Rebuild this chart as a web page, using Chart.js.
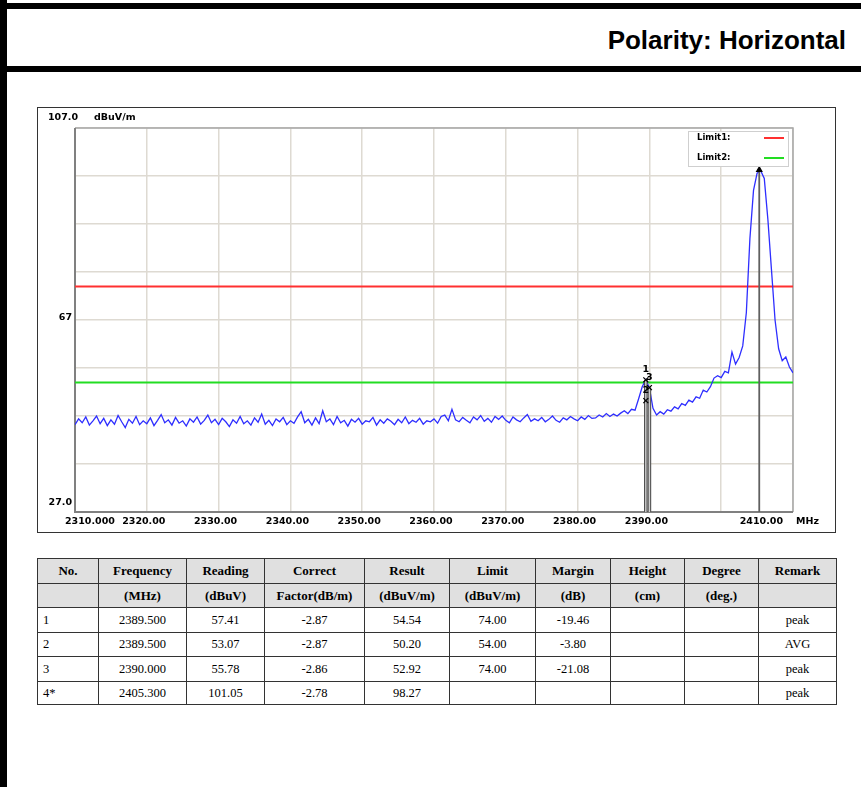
<!DOCTYPE html>
<html><head><meta charset="utf-8">
<script src="https://cdn.jsdelivr.net/npm/chart.js@4/dist/chart.umd.min.js"></script>
<style>
body{margin:0;width:861px;height:787px;background:#fff;position:relative;overflow:hidden;font-family:"Liberation Sans",Arial,sans-serif}
.bar{position:absolute;background:#000}
#title{position:absolute;right:15px;top:25px;line-height:28px;font:bold 26px "Liberation Sans",Arial,sans-serif;color:#000;white-space:nowrap}
#box{position:absolute;left:37px;top:107px;width:799px;height:426px;border:1px solid #333;box-sizing:border-box}
#cv{position:absolute;left:37px;top:107px}
#tbl{position:absolute;left:37px;top:558px;width:799px;border-collapse:collapse;table-layout:fixed;font-family:"Liberation Serif","Times New Roman",serif;font-size:12.5px;color:#000;border:1.5px solid #222}
#tbl td{border:1px solid #333;padding:0;text-align:center;white-space:nowrap;overflow:hidden}
#tbl tr.h td{background:#e0e0e0;font-weight:bold;font-size:13px}
#tbl td.no{text-align:left;padding-left:5px}
</style></head>
<body>
<div class="bar" style="left:0;top:3px;width:861px;height:6px"></div>
<div class="bar" style="left:0;top:66px;width:861px;height:6px"></div>
<div class="bar" style="left:0;top:0;width:7px;height:787px"></div>
<div id="title">Polarity: Horizontal</div>
<div id="box"></div>
<canvas id="cv" width="799" height="426"></canvas>
<table id="tbl"></table>
<script>
// ---- chart data ----
const startFreq = 2310;
const stepFreq = 0.5;
const levels = [
 45.2,46.4,45.6,46.8,45.1,46.0,47.0,45.4,46.5,45.0,
 46.2,45.3,47.1,45.8,44.6,46.3,45.5,46.9,45.2,46.0,
 45.4,46.6,45.0,46.1,47.3,45.6,46.2,45.1,46.7,45.5,
 46.0,44.9,46.4,45.7,46.8,45.3,46.1,47.2,45.6,46.3,
 45.2,46.5,45.8,44.8,46.2,45.5,46.9,45.4,46.0,45.1,
 46.6,45.7,47.4,45.3,46.1,45.0,46.4,45.8,46.7,45.2,
 46.0,45.5,46.8,47.9,45.6,46.3,45.1,46.6,45.4,48.1,
 45.8,46.4,45.2,46.9,45.6,46.1,44.9,46.3,45.7,46.5,
 45.3,46.0,45.8,46.7,45.1,46.2,45.5,46.4,45.9,45.2,
 46.3,45.6,46.8,45.4,46.1,45.7,46.5,45.3,46.0,45.8,
 46.4,45.5,46.9,47.2,46.0,48.4,46.2,45.8,46.7,46.1,
 45.6,46.8,46.2,47.1,45.9,46.5,45.7,46.9,46.3,47.0,
 46.1,45.6,46.8,46.2,45.8,46.6,47.3,45.9,46.4,46.0,
 46.7,45.8,46.3,47.0,46.1,45.7,46.6,46.2,46.9,46.4,
 46.0,46.8,46.3,47.1,46.5,
 46.6,47.2,46.8,47.5,46.9,47.4,47.0,47.6,48.1,47.5,48.4,48.2,50.6,53.1,
 54.54,52.92,48.6,
 47.2,47.9,47.4,48.3,48.0,48.9,48.5,49.6,49.2,50.3,49.9,51.0,50.7,52.4,52.0,53.1,54.9,55.4,55.0,56.3,56.0,60.3,57.8,59.2,61.6,
 68.5,84.0,94.0,97.6,98.1,96.5,88.0,77.5,67.0,61.0,58.5,59.3,57.2,56.0
];
const xMin = 2310, xMax = 2410;
const yMin = 27, yMax = 107;
const xTicks = [2310,2320,2330,2340,2350,2360,2370,2380,2390,2400,2410];
const xTickLabels = ['2310.000','2320.00','2330.00','2340.00','2350.00','2360.00','2370.00','2380.00','2390.00','','2410.00'];
const xUnit = 'MHz';
const yTicks = [27,37,47,57,67,77,87,97,107];
const yLabelValues = [107,67,27];
const yLabelTexts = ['107.0','67','27.0'];
const yUnit = 'dBuV/m';
const limitNames = ['Limit1:','Limit2:'];
const limitValues = [74,54];
const markerNames = ['1','2','3','4'];
const markerFreqs = [2389.5,2389.5,2390.0,2405.3];
const markerLevels = [54.54,50.20,52.92,98.27];

// ---- table data ----
const head1 = ['No.','Frequency','Reading','Correct','Result','Limit','Margin','Height','Degree','Remark'];
const head2 = ['','(MHz)','(dBuV)','Factor(dB/m)','(dBuV/m)','(dBuV/m)','(dB)','(cm)','(deg.)',''];
const tNo = ['1','2','3','4*'];
const tFreq = ['2389.500','2389.500','2390.000','2405.300'];
const tReading = ['57.41','53.07','55.78','101.05'];
const tFactor = ['-2.87','-2.87','-2.86','-2.78'];
const tResult = ['54.54','50.20','52.92','98.27'];
const tLimit = ['74.00','54.00','74.00',''];
const tMargin = ['-19.46','-3.80','-21.08',''];
const tHeight = ['','','',''];
const tDegree = ['','','',''];
const tRemark = ['peak','AVG','peak','peak'];

// ---- build table ----
(function(){
  const colW = [61,88,78,100,85,86,75,74,74,78];
  const tbl = document.getElementById('tbl');
  let html = '<colgroup>' + colW.map(w=>'<col style="width:'+w+'px">').join('') + '</colgroup>';
  html += '<tr class="h" style="height:25px">' + head1.map(t=>'<td>'+t+'</td>').join('') + '</tr>';
  html += '<tr class="h" style="height:24px">' + head2.map(t=>'<td>'+t+'</td>').join('') + '</tr>';
  const rh = [25,24,25,23];
  for(let i=0;i<tNo.length;i++){
    const cells = [tFreq[i],tReading[i],tFactor[i],tResult[i],tLimit[i],tMargin[i],tHeight[i],tDegree[i],tRemark[i]];
    html += '<tr style="height:'+rh[i]+'px"><td class="no">'+tNo[i]+'</td>' + cells.map(t=>'<td>'+t+'</td>').join('') + '</tr>';
  }
  tbl.innerHTML = html;
})();

// ---- chart ----
const trace = levels.map((v,i)=>({x:startFreq + i*stepFreq, y:v}));
const AXFONT = 'bold 9.5px "DejaVu Sans", sans-serif';

const decor = {
  id:'decor',
  beforeDatasetsDraw(chart){
    const {ctx, chartArea:a} = chart;
    ctx.save();
    ctx.strokeStyle = '#a8a8a8'; ctx.lineWidth = 1.5;
    ctx.beginPath(); ctx.moveTo(a.left, a.top); ctx.lineTo(a.right, a.top); ctx.lineTo(a.right, a.bottom); ctx.stroke();
    ctx.strokeStyle = '#808080'; ctx.lineWidth = 2;
    ctx.beginPath(); ctx.moveTo(a.left, a.top); ctx.lineTo(a.left, a.bottom); ctx.lineTo(a.right, a.bottom); ctx.stroke();
    ctx.restore();
  },
  afterDraw(chart){
    const {ctx, chartArea:a, scales:{x,y}} = chart;
    ctx.save();
    ctx.font = AXFONT; ctx.fillStyle = '#000'; ctx.textBaseline = 'middle';
    xTicks.forEach((v,i)=>{
      const t = xTickLabels[i]; if(!t) return;
      const px = x.getPixelForValue(v);
      if(i===0){ ctx.textAlign='left'; ctx.fillText(t, px-10, a.bottom+10); }
      else if(i===xTicks.length-1){ ctx.textAlign='right'; ctx.fillText(t, px-10, a.bottom+10); }
      else { ctx.textAlign='center'; ctx.fillText(t, px-3, a.bottom+10); }
    });
    ctx.textAlign='left'; ctx.fillText(xUnit, a.right+3, a.bottom+10);
    yLabelValues.forEach((v,i)=>{
      const py = y.getPixelForValue(v);
      ctx.textAlign='right';
      if(i===0){ ctx.fillText(yLabelTexts[i], a.left+3, py-10); ctx.textAlign='left'; ctx.fillText(yUnit, a.left+19, py-10); }
      else if(v===yMin){ ctx.fillText(yLabelTexts[i], a.left-3, py-9); }
      else { ctx.fillText(yLabelTexts[i], a.left-3, py-2); }
    });
    // marker labels (1..3)
    ctx.textAlign='center';
    for(let i=0;i<3;i++){
      ctx.fillText(markerNames[i], x.getPixelForValue(markerFreqs[i]), y.getPixelForValue(markerLevels[i])-10);
    }
    // legend
    const lx = a.right-105, ly = a.top+3, lw = 100, lh = 35;
    ctx.fillStyle = '#fff'; ctx.fillRect(lx, ly, lw, lh);
    ctx.strokeStyle = '#cfcfcf'; ctx.lineWidth = 1; ctx.strokeRect(lx+0.5, ly+0.5, lw, lh);
    ctx.font = 'bold 8.5px "DejaVu Sans", sans-serif';
    const lcols = [chart.data.datasets[2].borderColor, chart.data.datasets[3].borderColor];
    limitNames.forEach((n,i)=>{
      const yy = ly + 7 + i*20;
      ctx.fillStyle = '#000'; ctx.textAlign='left'; ctx.fillText(n, lx+9, yy);
      ctx.strokeStyle = lcols[i]; ctx.lineWidth = 2;
      ctx.beginPath(); ctx.moveTo(lx+76, yy); ctx.lineTo(lx+96, yy); ctx.stroke();
    });
    ctx.restore();
  }
};

const markerLineSets = [];
for(let i=0;i<markerFreqs.length;i++){
  if(i===1) continue; // marker 2 shares marker 1's line
  const d = [{x:markerFreqs[i], y:markerLevels[i]}, {x:markerFreqs[i], y:yMin}];
  if(i<3){
    markerLineSets.push({data:d, showLine:true, borderColor:'#cfcfcf', borderWidth:1.4, pointRadius:0, order:1});
    markerLineSets.push({data:d, showLine:true, borderColor:'#505050', borderWidth:3.6, pointRadius:0, order:2});
  } else {
    markerLineSets.push({data:d, showLine:true, borderColor:'#606060', borderWidth:1.8, pointRadius:0, order:2});
  }
}

new Chart(document.getElementById('cv'), {
  type:'scatter',
  data:{datasets:[
    {label:'markers', data:markerFreqs.map((f,i)=>({x:f,y:markerLevels[i]})), showLine:false,
     pointStyle:['crossRot','crossRot','crossRot','triangle'], pointRadius:[3.5,3.5,3.5,3],
     borderColor:'#000', backgroundColor:'#000', borderWidth:1.2, order:0},
    {label:'trace', data:trace, showLine:true, borderColor:'#2e2eff', borderWidth:1.3, pointRadius:0, tension:0, order:3},
    {label:limitNames[0], data:[{x:xMin,y:limitValues[0]},{x:xMax,y:limitValues[0]}], showLine:true, borderColor:'#ff3030', borderWidth:2, pointRadius:0, order:4},
    {label:limitNames[1], data:[{x:xMin,y:limitValues[1]},{x:xMax,y:limitValues[1]}], showLine:true, borderColor:'#22dd22', borderWidth:2, pointRadius:0, order:4},
    ...markerLineSets
  ]},
  options:{
    responsive:false, animation:false, devicePixelRatio:1,
    layout:{padding:{top:21, right:43, left:0, bottom:0}},
    plugins:{legend:{display:false}, tooltip:{enabled:false}},
    scales:{
      x:{type:'linear', min:xMin, max:xMax,
         afterBuildTicks:s=>{ s.ticks = xTicks.map(v=>({value:v})); },
         afterFit:s=>{ s.height = 21; },
         ticks:{display:false}, border:{display:false},
         grid:{color:'#dedad2', lineWidth:1.5, drawTicks:false}},
      y:{type:'linear', min:yMin, max:yMax,
         afterBuildTicks:s=>{ s.ticks = yTicks.map(v=>({value:v})); },
         afterFit:s=>{ s.width = 38; },
         ticks:{display:false}, border:{display:false},
         grid:{color:'#dedad2', lineWidth:1.5, drawTicks:false}}
    }
  },
  plugins:[decor]
});
</script>
</body></html>
